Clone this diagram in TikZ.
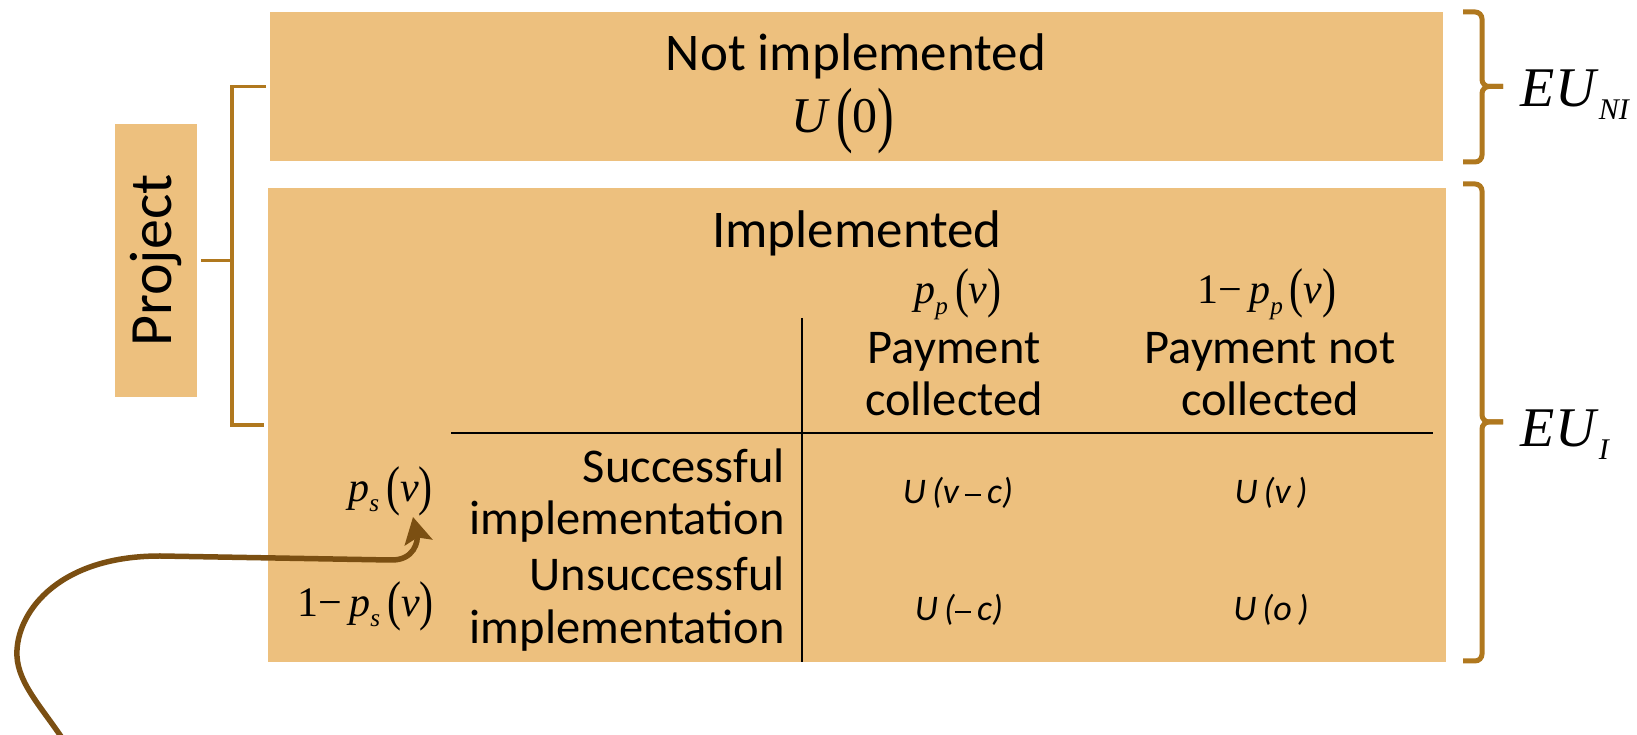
\documentclass[tikz,border=0pt]{standalone}
\usepackage{fontspec}
\usepackage{graphicx}
\setmainfont{Carlito}
\newfontfamily\tms{Liberation Serif}
\usetikzlibrary{arrows.meta}
\definecolor{boxfill}{RGB}{237,192,126}
\definecolor{brk}{RGB}{176,120,30}
\definecolor{arr}{RGB}{123,79,18}
\newcommand\fs[1]{\fontsize{#1}{#1}\selectfont}
\newcommand\lpar{\raisebox{-0.07em}{\scalebox{1}[1.3]{\upshape(}}}
\newcommand\rpar{\raisebox{-0.07em}{\scalebox{1}[1.3]{\upshape)}}}
\newcommand\lparb{\raisebox{-0.11em}{\scalebox{1}[1.45]{\upshape(}}}
\newcommand\rparb{\raisebox{-0.11em}{\scalebox{1}[1.45]{\upshape)}}}
\newcommand\sbs[1]{\raisebox{-0.25em}{\scalebox{0.6}{#1}}}
\newcommand\mns{\raisebox{0.22em}{\rule{0.45em}{0.06em}}}
\tikzset{
  boxn/.style={fill=boxfill, draw=none, inner sep=0pt, outer sep=0pt},
  lbl/.style={inner sep=0pt, anchor=base},
  head/.style={lbl, font=\fs{53}},
  tabtxt/.style={lbl, font=\fs{48.5}},
  rowtxt/.style={inner sep=0pt, anchor=base east, font=\fs{48.5}},
  cell/.style={lbl, font=\fs{36}\itshape},
  mth/.style={inner sep=0pt, font=\fs{42}\tms\itshape},
  eu/.style={inner sep=0pt, anchor=base west, font=\fs{56}\tms\itshape},
  brkline/.style={draw=brk, line width=3.5pt},
  braceline/.style={draw=brk, line width=5pt, rounded corners=7pt},
  tbl/.style={draw=black, line width=2.5pt},
  arrline/.style={draw=arr, line width=5.5pt, -{Stealth[length=26pt,width=28pt,inset=5pt]}}
}
\begin{document}
\begin{tikzpicture}[x=1pt,y=1pt]
\useasboundingbox (0,0) rectangle (1637,735);
% boxes
\node[boxn, minimum width=1173pt, minimum height=149pt] (top) at (856.5,648.5) {};
\node[boxn, minimum width=1178pt, minimum height=474pt] (bot) at (857,310) {};
\node[boxn, rotate=90, minimum width=273pt, minimum height=82pt, font=\fs{60}] (proj) at (156,474.5) {Project};
% left bracket
\coordinate (jn) at (232,474.5);
\draw[brkline] ([xshift=4pt]proj.south) -- (jn);
\draw[brkline] ([xshift=-4pt]top.west) -| (jn) |- ([xshift=-4pt]bot.west);
% right braces
\draw[braceline] (1463,723) -- (1482,723) -- (1482,648.5) -- (1503,648.5);
\draw[braceline] (1503,648.5) -- (1482,648.5) -- (1482,573) -- (1463,573);
\draw[braceline] (1463,551) -- (1482,551) -- (1482,313) -- (1503,313);
\draw[braceline] (1503,313) -- (1482,313) -- (1482,74) -- (1463,74);
\node[eu] (eni) at (1520,628) {E\kern1pt U\hspace{3pt}\raisebox{-13pt}{\fs{30}NI}};
\node[eu] (ei) at (1520,288) {E\kern1pt U\hspace{3pt}\raisebox{-13pt}{\fs{30}I}};
% top box texts
\node[head] (nottxt) at (856,664) {Not implemented};
\node[lbl, font=\fs{50}\tms\itshape] (u0) at (843,602) {U\,\lparb{\upshape 0}\rparb};
% bottom box texts
\node[head] (impl) at (857,487) {Implemented};
\node[mth, anchor=base] (pp) at (958,431) {p\sbs{p}\,\lpar v\rpar};
\node[mth, anchor=base] (pp2) at (1267,431) {{\upshape 1−}\,p\sbs{p}\,\lpar v\rpar};
\node[tabtxt] (pay1) at (954,371) {Payment};
\node[tabtxt] (col1) at (954,319) {collected};
\node[tabtxt] (pay2) at (1270,371) {Payment not};
\node[tabtxt] (col2) at (1270,319) {collected};
\node[rowtxt] (suc) at (785,252) {Successful};
\node[rowtxt] (imp1) at (785,200) {implementation};
\node[rowtxt] (unsuc) at (785,144) {Unsuccessful};
\node[rowtxt] (imp2) at (785,91) {implementation};
\node[mth, anchor=east] (ps) at (433,244) {p\sbs{s}\,\lpar v\rpar};
\node[mth, anchor=east] (ps2) at (434,129) {{\upshape 1−}\,p\sbs{s}\,\lpar v\rpar};
\node[cell] (c11) at (958,231) {U\,(v\,\mns\,c)};
\node[cell] (c12) at (1271,231) {U\,(v\,)};
\node[cell] (c21) at (959,114) {U\,(\mns\,c)};
\node[cell] (c22) at (1271,114) {U\,(o\,)};
% table lines
\draw[tbl] (802,417) -- (802,73);
\draw[tbl] (451,302) -- (1433,302);
% arrow
\coordinate (astart) at (62,-3);
\draw[arrline] (astart) .. controls (40,30) and (15,55) .. (17,85) .. controls (19,125) and (60,179) .. (160,179) -- (390,175) .. controls (415,174) and (418,195) .. ([xshift=-20pt,yshift=-1pt]ps.south east);
\end{tikzpicture}
\end{document}
